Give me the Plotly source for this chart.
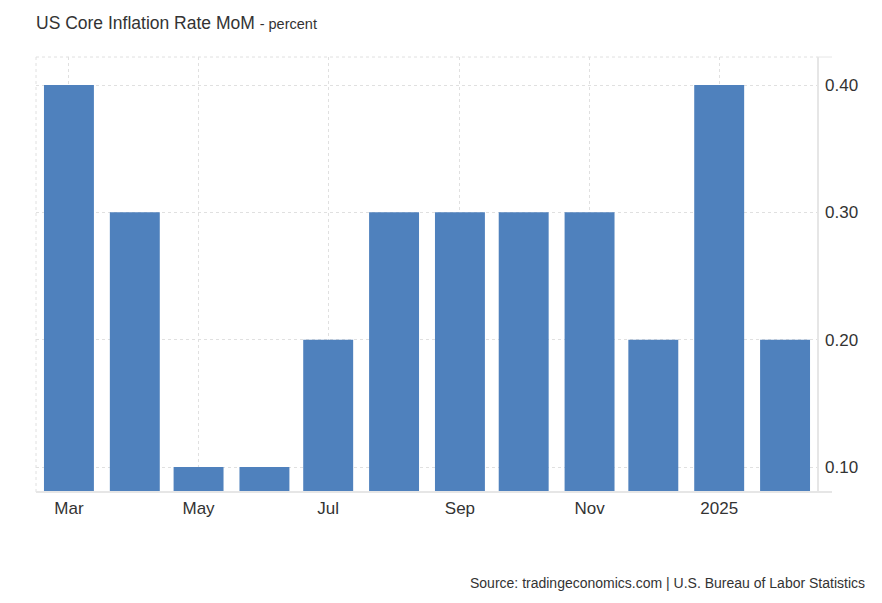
import plotly.graph_objects as go

months = ["2024-03-01", "2024-04-01", "2024-05-01", "2024-06-01", "2024-07-01", "2024-08-01",
          "2024-09-01", "2024-10-01", "2024-11-01", "2024-12-01", "2025-01-01", "2025-02-01"]
values = [0.4, 0.3, 0.1, 0.1, 0.2, 0.3, 0.3, 0.3, 0.3, 0.2, 0.4, 0.2]
tick_dates = ["2024-03-01", "2024-05-01", "2024-07-01", "2024-09-01", "2024-11-01", "2025-01-01"]
tick_labels = ["Mar", "May", "Jul", "Sep", "Nov", "2025"]
y_ticks = [0.1, 0.2, 0.3, 0.4]
y_labels = ["0.10", "0.20", "0.30", "0.40"]

DAY_MS = 86400000
W, H = 874, 595
L, R, T, B = 28, 64, 49, 111
PW = W - L - R

fig = go.Figure()
fig.add_trace(go.Bar(
    x=months, y=values, width=[23.5 * DAY_MS] * len(values),
    marker=dict(color="#4f81bd", line=dict(width=0)),
    hoverinfo="x+y",
))

grid = "#e0e0e0"
fig.update_layout(
    width=W, height=H,
    margin=dict(l=L, r=R, t=T, b=B),
    plot_bgcolor="white", paper_bgcolor="white",
    font=dict(family="Liberation Sans, Arial, sans-serif", color="#333333"),
    showlegend=False,
    xaxis=dict(
        type="date", range=["2024-02-14 12:00", "2025-02-16 12:00"],
        tickvals=tick_dates, ticktext=tick_labels,
        tickfont=dict(size=17, color="#333333"),
        showgrid=True, gridcolor=grid, griddash="dot", gridwidth=1,
        showline=False, zeroline=False, ticks="", ticklabelstandoff=4,
    ),
    yaxis=dict(
        side="right", range=[0.0804, 0.422],
        tickvals=y_ticks, ticktext=y_labels,
        tickfont=dict(size=17, color="#333333"),
        showgrid=True, gridcolor=grid, griddash="dot", gridwidth=1,
        showline=False, zeroline=False, ticks="", ticklabelstandoff=6,
    ),
    shapes=[
        dict(type="line", xref="paper", yref="paper", x0=0, x1=1, y0=1, y1=1,
             line=dict(color=grid, width=1, dash="dot")),
        dict(type="line", xref="paper", yref="paper", x0=0, x1=0, y0=0, y1=1,
             line=dict(color=grid, width=1, dash="dot")),
        dict(type="line", xref="paper", yref="paper", x0=1, x1=1, y0=0, y1=1,
             line=dict(color="#e6e6e6", width=2)),
        dict(type="line", xref="paper", yref="paper", x0=0, x1=(PW + 14) / PW, y0=0, y1=0,
             line=dict(color="#e6e6e6", width=2)),
        dict(type="line", xref="paper", yref="paper", x0=1, x1=(PW + 14) / PW, y0=1, y1=1,
             line=dict(color="#e6e6e6", width=1)),
    ],
    annotations=[
        dict(text="US Core Inflation Rate MoM <span style='font-size:14.5px'>- percent</span>",
             xref="paper", yref="paper", x=0, y=1, xanchor="left", yanchor="bottom",
             xshift=-2, yshift=22, showarrow=False, font=dict(size=17.5, color="#333333")),
        dict(text="Source: tradingeconomics.com | U.S. Bureau of Labor Statistics",
             xref="paper", yref="paper", x=(859 - L) / PW, y=0,
             xanchor="right", yanchor="middle", yshift=-91, showarrow=False,
             font=dict(size=14, color="#333333")),
    ],
)

fig.write_html("out.html")
